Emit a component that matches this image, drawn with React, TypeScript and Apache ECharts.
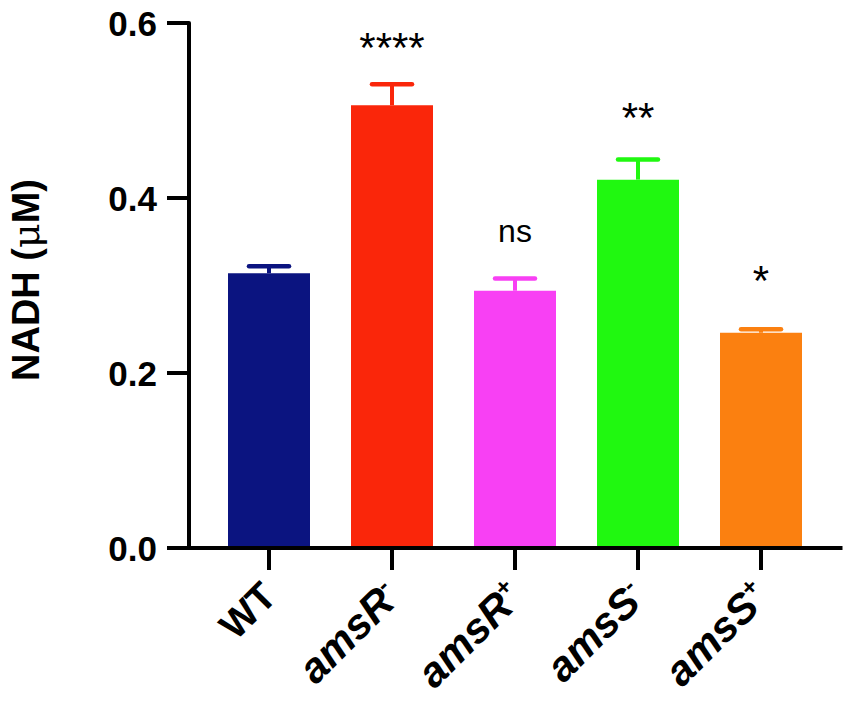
import React, { useEffect, useRef } from "react";
import * as echarts from "echarts";

const categories = ["WT", "amsR-", "amsR+", "amsS-", "amsS+"];
const means = [0.314, 0.506, 0.294, 0.421, 0.246];
const errorTops = [0.322, 0.53, 0.308, 0.444, 0.25];
const significance = ["", "****", "ns", "**", "*"];
const significanceY = [0, 0.572, 0.362, 0.492, 0.306];
const yTicks = [0, 0.2, 0.4, 0.6];
const palette = ["#0b1480", "#fa260a", "#f840f4", "#20f810", "#fb8010"];

const FONT = "'Liberation Sans', Arial, Helvetica, sans-serif";

export default function App() {
  const ref = useRef<HTMLDivElement>(null);
  useEffect(() => {
    if (!ref.current) return;
    const chart = echarts.init(ref.current, null, { renderer: "svg" });
    const option: any = {
      animation: false,
      backgroundColor: "#ffffff",
      grid: { left: 207.5, right: 28.5, top: 23, bottom: 156, containLabel: false },
      xAxis: {
        type: "category",
        data: categories,
        axisLine: { show: false },
        axisTick: {
          show: true,
          alignWithLabel: true,
          length: 22,
          lineStyle: { color: "#000", width: 4 },
        },
        axisLabel: {
          rotate: 45,
          margin: 41,
          interval: 0,
          color: "#000",
          fontFamily: FONT,
          formatter: (v: string) =>
            v === "WT" ? "{b|WT}" : `{i|${v.slice(0, -1)}}{sup|${v.slice(-1)}}`,
          rich: {
            b: { fontSize: 39, fontWeight: "bold", fontFamily: FONT, color: "#000" },
            i: { fontSize: 42, fontWeight: "bold", fontStyle: "italic", fontFamily: FONT, color: "#000" },
            sup: {
              fontSize: 24,
              fontWeight: "bold",
              fontFamily: FONT,
              color: "#000",
              verticalAlign: "top",
              padding: [0, 0, 20, 0],
            },
          },
        },
        splitLine: { show: false },
      },
      yAxis: {
        type: "value",
        min: yTicks[0],
        max: yTicks[yTicks.length - 1],
        interval: 0.2,
        offset: 18.5,
        axisLine: { show: true, lineStyle: { color: "#000", width: 4 } },
        axisTick: { show: true, length: 22, lineStyle: { color: "#000", width: 4 } },
        axisLabel: {
          margin: 32,
          color: "#000",
          fontSize: 35,
          fontWeight: "bold",
          fontFamily: FONT,
          formatter: (v: number) => v.toFixed(1),
        },
        splitLine: { show: false },
      },
      series: [
        {
          type: "bar",
          barWidth: 82,
          data: means.map((v, i) => ({ value: v, itemStyle: { color: palette[i] } })),
          z: 2,
        },
        {
          type: "custom",
          z: 3,
          data: categories.map((c, i) => [i, errorTops[i], means[i], significanceY[i]]),
          renderItem: (params: any, api: any) => {
            const i = api.value(0);
            const cap = api.coord([i, api.value(1)]);
            const base = api.coord([i, api.value(2)]);
            const lab = api.coord([i, api.value(3)]);
            const color = palette[params.dataIndex];
            const sig = significance[params.dataIndex];
            const isStar = sig.indexOf("*") >= 0;
            const children: any[] = [
              {
                type: "line",
                shape: { x1: cap[0], y1: base[1], x2: cap[0], y2: cap[1] },
                style: { stroke: color, lineWidth: 4 },
              },
              {
                type: "line",
                shape: { x1: cap[0] - 20, y1: cap[1], x2: cap[0] + 20, y2: cap[1] },
                style: { stroke: color, lineWidth: 4.5, lineCap: "round" },
              },
            ];
            if (sig) {
              children.push({
                type: "text",
                x: lab[0],
                y: lab[1],
                style: {
                  text: sig,
                  fill: "#000",
                  fontSize: isStar ? 42 : 32,
                  fontFamily: FONT,
                  align: "center",
                  verticalAlign: "middle",
                },
              });
            }
            return { type: "group", children };
          },
        },
      ],
    };
    chart.setOption(option);
    const y0 = chart.convertToPixel({ yAxisIndex: 0 }, 0) as number;
    const xFirst = chart.convertToPixel({ xAxisIndex: 0 }, categories[0]) as number;
    const xLast = chart.convertToPixel({ xAxisIndex: 0 }, categories[categories.length - 1]) as number;
    chart.setOption({
      graphic: [
        {
          type: "line",
          shape: { x1: xFirst - 102, y1: y0, x2: xLast + 81.5, y2: y0 },
          style: { stroke: "#000", lineWidth: 4 },
          z: 10,
        },
        {
          type: "text",
          x: 26,
          y: 280,
          rotation: Math.PI / 2,
          style: {
            text: "{b|NADH (}{m|μ}{b|M)}",
            align: "center",
            verticalAlign: "middle",
            rich: {
              b: { fontSize: 38, fontWeight: "bold", fontFamily: FONT, fill: "#000" },
              m: { fontSize: 38, fontWeight: "normal", fontFamily: "'DejaVu Serif', serif", fill: "#000" },
            },
          },
        },
      ],
    });
    return () => chart.dispose();
  }, []);
  return (
    <div
      ref={ref}
      style={{ position: "absolute", left: 0, top: 0, width: 851, height: 704 }}
    />
  );
}
